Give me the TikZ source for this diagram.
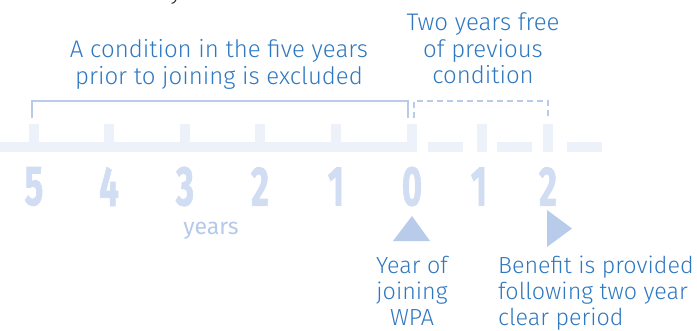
\documentclass[tikz,border=0pt]{standalone}
\usepackage{fontspec}
\usepackage{graphicx}
\newfontfamily\lightfont{Fira Sans Light}
\newfontfamily\bookfont{Fira Sans}
\newfontfamily\digitfont{Fira Sans Bold}[FakeBold=1.5]
\definecolor{barfill}{HTML}{EDF1FA}
\definecolor{bracketblue}{HTML}{BACBEA}
\definecolor{digitblue}{HTML}{D0DDF2}
\definecolor{softblue}{HTML}{B5C9EA}
\definecolor{markblue}{HTML}{B8CBEA}
\definecolor{textblue}{HTML}{2F78C0}
\newcommand{\narrowdigit}[1]{\scalebox{0.62}[1]{#1}}
\tikzset{
  barpart/.style={fill=barfill, draw=none},
  bracketline/.style={draw=bracketblue, line width=2.5pt},
  digitlabel/.style={inner sep=0pt, text=digitblue,
    font=\digitfont\fontsize{56}{56}\selectfont},
  caption/.style={inner sep=0pt, text=textblue,
    font=\lightfont\fontsize{24}{26.5}\selectfont},
  smallcaption/.style={caption,
    font=\lightfont\fontsize{23.3}{26}\selectfont},
  marker/.style={fill=markblue, draw=none}
}
\begin{document}
\begin{tikzpicture}[x=1pt, y=-1pt]
\useasboundingbox (0,0) rectangle (697,330);

% tail of a heading line above the picture
\node[inner sep=0pt, anchor=base, text=black!85,
  font=\lightfont\fontsize{24}{24}\selectfont] (head) at (176,-0.5) {y};

% time line: solid part up to joining, broken part afterwards
\fill[barpart] (0,142) rectangle (417,152);
\foreach \t in {33.5,109,185,260,336,412}
  \fill[barpart] (\t-5,124) rectangle (\t+5,142);
\foreach \a/\b in {428/463, 497/532, 567/602}
  \fill[barpart] (\a,142) rectangle (\b,152);
\foreach \t in {482,548}
  \fill[barpart] (\t-5,124) rectangle (\t+5,152);

% year numbers
\node[digitlabel] (y5) at (34,186.5) {\narrowdigit{5}};
\node[digitlabel] (y4) at (109,186.5) {\narrowdigit{4}};
\node[digitlabel] (y3) at (185,186.5) {\narrowdigit{3}};
\node[digitlabel] (y2) at (260,186.5) {\narrowdigit{2}};
\node[digitlabel] (y1) at (336,186.5) {\narrowdigit{1}};
\node[digitlabel] (y0) at (412,186.5) {\narrowdigit{0}};
\node[digitlabel] (p1) at (479,186.5) {\narrowdigit{1}};
\node[digitlabel] (p2) at (548,186.5) {\narrowdigit{2}};
\node[inner sep=0pt, anchor=base, text=softblue,
  font=\bookfont\fontsize{23}{23}\selectfont] (unit) at (211,234.5) {years};

% brackets over the excluded and the waiting periods
\draw[bracketline] (32,118) -- (32,101) -- (408,101) -- (408,118);
\draw[bracketline, dash pattern=on 6pt off 4pt] (414,118) -- (414,101) -- (548,101) -- (548,118);

\node[caption, align=center, anchor=north] (excl) at (219,39.5)
  {A condition in the five years\\prior to joining is excluded};
\node[caption, align=center, anchor=north] (free) at (483,12.5)
  {Two years free\\of previous\\condition};

% markers
\fill[marker] (393,241) -- (430,241) -- (412,216) -- cycle;
\fill[marker] (547,210) -- (547,247) -- (572,228.5) -- cycle;

\node[smallcaption, align=center, anchor=north] (join) at (412,256)
  {Year of\\joining\\WPA};
\node[smallcaption, align=left, anchor=north west] (benefit) at (498,256)
  {Benefit is provided\\following two year\\clear period};
\end{tikzpicture}
\end{document}
